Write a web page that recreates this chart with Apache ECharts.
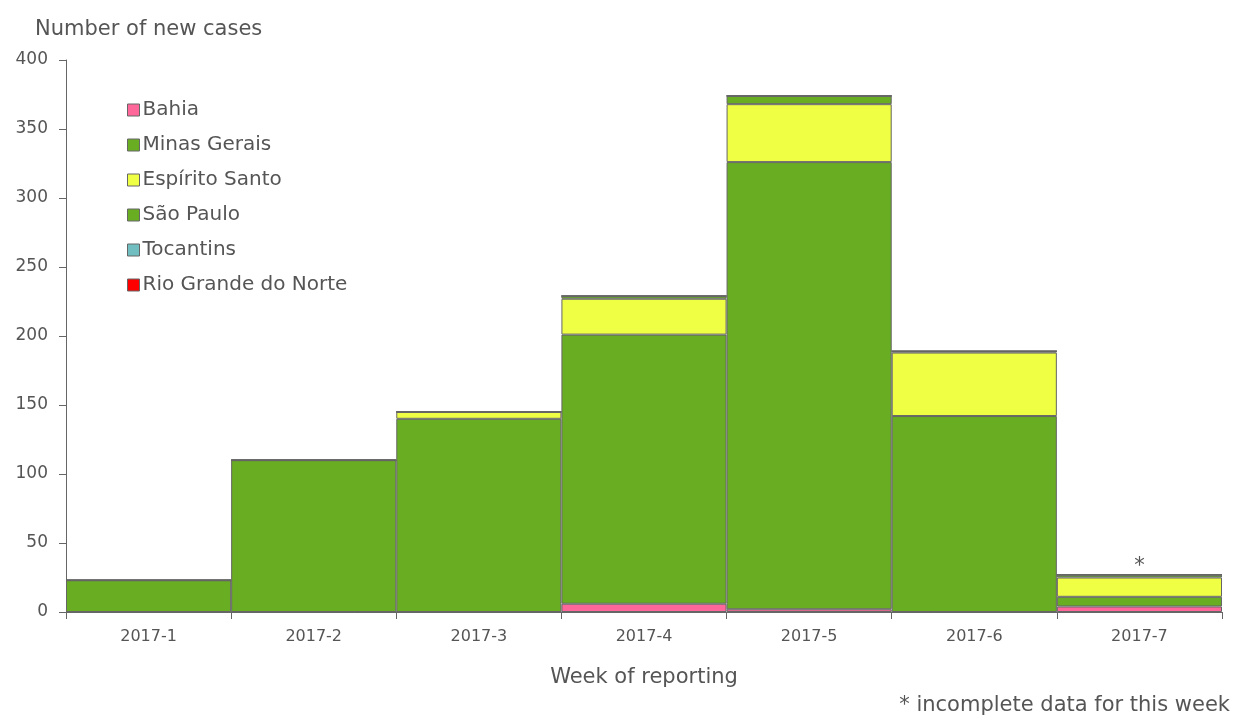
<!DOCTYPE html>
<html>
<head>
<meta charset="utf-8">
<script src="https://cdn.jsdelivr.net/npm/echarts@6/dist/echarts.min.js"></script>
<style>
html, body { margin: 0; padding: 0; background: #fff; }
#main { width: 1234px; height: 716px; }
</style>
</head>
<body>
<div id="main"></div>
<script>
// weeks of reporting
let weeks = ['2017-1', '2017-2', '2017-3', '2017-4', '2017-5', '2017-6', '2017-7'];
// new cases per state
let bahia = [0, 0, 0, 6, 2, 0, 4];
let minasGerais = [23, 110, 140, 195, 324, 142, 7];
let espiritoSanto = [0, 0, 5, 26, 42, 46, 14];
let saoPaulo = [0, 0, 0, 2, 6, 1, 2];
let tocantins = [0, 0, 0, 0, 0, 0, 0];
let rioGrandeDoNorte = [0, 0, 0, 0, 0, 0, 0];
let yTicks = [0, 50, 100, 150, 200, 250, 300, 350, 400];

let font = 'Tahoma, "DejaVu Sans", sans-serif';
let textColor = '#555';
let borderGray = '#666';

function makeSeries(name, data, color) {
    return {
        name: name,
        type: 'bar',
        stack: 'cases',
        barWidth: '100%',
        barCategoryGap: 0,
        itemStyle: { color: color, borderColor: borderGray, borderWidth: 1 },
        data: data
    };
}

let series = [
    makeSeries('Bahia', bahia, '#ff6699'),
    makeSeries('Minas Gerais', minasGerais, '#69ad22'),
    makeSeries('Espírito Santo', espiritoSanto, '#eeff44'),
    makeSeries('São Paulo', saoPaulo.map(function (v, i) {
        // asterisk above the incomplete last week
        if (i === weeks.length - 1) {
            return { value: v, label: { show: true, position: 'top', formatter: '*', fontSize: 21, color: textColor, fontFamily: font, distance: -2 } };
        }
        return v;
    }), '#69ad22'),
    makeSeries('Tocantins', tocantins, '#70bec0'),
    makeSeries('Rio Grande do Norte', rioGrandeDoNorte, '#ff0000')
];

let mychart = echarts.init(document.getElementById('main'));
mychart.setOption({
    animation: false,
    textStyle: { fontFamily: font },
    grid: { left: 66, right: 12, top: 60, bottom: 104 },
    legend: {
        orient: 'vertical',
        left: 122,
        top: 95,
        itemWidth: 12,
        itemHeight: 12,
        itemGap: 15,
        icon: 'rect',
        itemStyle: { borderColor: borderGray, borderWidth: 1 },
        textStyle: { fontSize: 20, color: textColor, fontFamily: font, padding: [0, 0, 0, -2] },
        data: series.map(function (s) { return s.name; })
    },
    xAxis: {
        type: 'category',
        data: weeks,
        name: 'Week of reporting',
        nameLocation: 'middle',
        nameGap: 55,
        nameTextStyle: { fontSize: 21, color: textColor, fontFamily: font },
        axisLine: { lineStyle: { color: borderGray } },
        axisTick: { show: true, length: 7, lineStyle: { color: borderGray } },
        axisLabel: { fontSize: 16, color: textColor, margin: 17 }
    },
    yAxis: {
        type: 'value',
        min: yTicks[0],
        max: yTicks[yTicks.length - 1],
        interval: 50,
        name: 'Number of new cases',
        nameLocation: 'end',
        nameGap: 20,
        nameTextStyle: { fontSize: 21, color: textColor, fontFamily: font, align: 'left', padding: [0, 0, 0, -31] },
        axisLine: { show: true, lineStyle: { color: borderGray } },
        axisTick: { show: true, length: 7, lineStyle: { color: borderGray } },
        axisLabel: { fontSize: 17, color: textColor, margin: 18 },
        splitLine: { show: false }
    },
    graphic: [{
        type: 'text',
        right: 4,
        bottom: 0,
        style: { text: '* incomplete data for this week', fontSize: 21, fill: textColor, fontFamily: font }
    }],
    series: series
});
</script>
</body>
</html>
